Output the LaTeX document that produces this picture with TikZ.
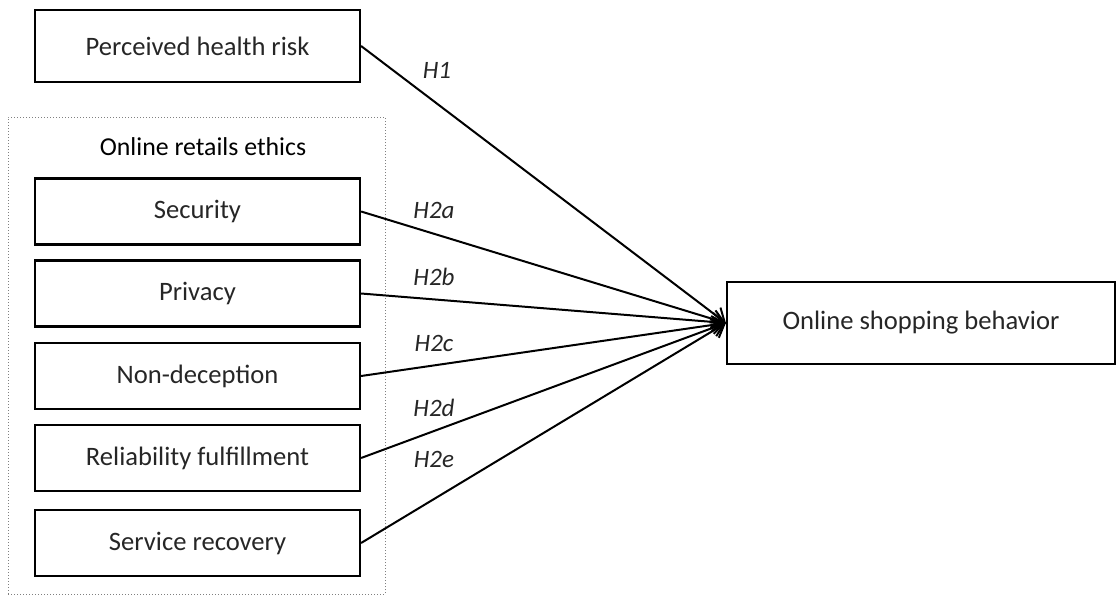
\documentclass[tikz,border=0pt]{standalone}
\usepackage{fontspec}
\setmainfont{Carlito}
\usetikzlibrary{arrows.meta}
\begin{document}
\begin{tikzpicture}[x=0.5pt,y=-0.5pt,
  box/.style={draw=black,line width=1.1pt,minimum height=33pt,inner sep=0pt,font=\fontsize{13.3}{15}\selectfont\color{black!85}},
  lbl/.style={font=\fontsize{12.5}{14}\selectfont\itshape\color{black!85},inner sep=0pt},
  conn/.style={line width=1pt,-{Straight Barb[length=6pt,width=9pt,line width=1pt]}}]
\useasboundingbox (0,0) rectangle (1116,595);
\node[draw=gray,densely dotted,line width=0.5pt,minimum width=188.5pt,minimum height=238.5pt,inner sep=0pt] (grp) at (196.5,355.5) {};
\node[font=\fontsize{12.9}{15}\selectfont] (grpt) at (203,147) {Online retails ethics};
\node[box,minimum width=162.5pt,minimum height=36pt] (phr) at (197.5,46) {Perceived health risk};
\node[box,minimum width=162.5pt] (sec) at (197.5,211.5) {Security};
\node[box,minimum width=162.5pt] (pri) at (197.5,293.5) {Privacy};
\node[box,minimum width=162.5pt] (non) at (197.5,376) {Non-deception};
\node[box,minimum width=162.5pt] (rel) at (197.5,458) {Reliability fulfillment};
\node[box,minimum width=162.5pt] (ser) at (197.5,543) {Service recovery};
\node[box,minimum width=194pt,minimum height=41pt] (osb) at (921,323) {Online shopping behavior};
\coordinate (tgt) at (osb.west);
\draw[conn] (phr.east) -- (tgt);
\draw[conn] (sec.east) -- (tgt);
\draw[conn] (pri.east) -- (tgt);
\draw[conn] (non.east) -- (tgt);
\draw[conn] (rel.east) -- (tgt);
\draw[conn] (ser.east) -- (tgt);
\node[lbl] (h1) at (437,70) {H1};
\node[lbl] (h2a) at (434,210) {H2a};
\node[lbl] (h2b) at (434,277) {H2b};
\node[lbl] (h2c) at (434,343) {H2c};
\node[lbl] (h2d) at (434,408) {H2d};
\node[lbl] (h2e) at (434,459) {H2e};
\end{tikzpicture}
\end{document}
